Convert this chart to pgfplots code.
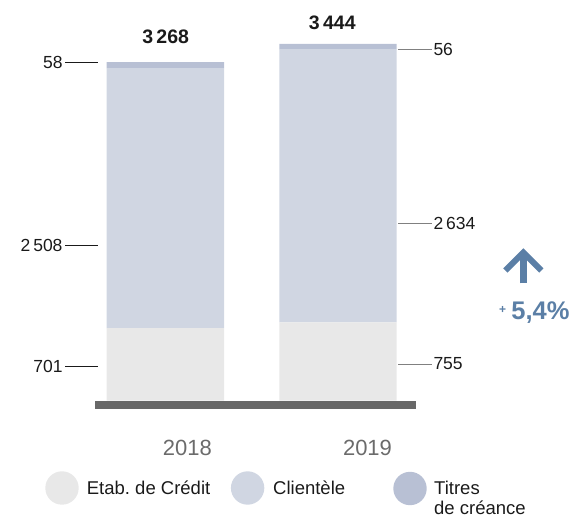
\documentclass[border=0pt]{standalone}
\usepackage{pgfplots}
\pgfplotsset{compat=1.18}
\usepackage{fontspec}
\setmainfont{Liberation Sans}
\frenchspacing
\definecolor{etab}{HTML}{E8E8E8}
\definecolor{clie}{HTML}{D0D6E2}
\definecolor{titr}{HTML}{B8C0D4}
\definecolor{basebar}{HTML}{686868}
\definecolor{blu}{HTML}{5B7FA6}
\definecolor{yr}{HTML}{6B6B6B}
\definecolor{txt}{HTML}{1A1A1A}
\newcommand\lab{\fontsize{17.5bp}{20bp}\selectfont}
\newcommand\tot{\bfseries\fontsize{19.5bp}{22bp}\selectfont}
\newcommand\leg{\fontsize{18.5bp}{20bp}\selectfont}
\begin{document}
\begin{tikzpicture}
\begin{scope}[x=1bp,y=1bp]
\useasboundingbox (0,0) rectangle (576,518);
\end{scope}
\begin{axis}[
  at={(94.5bp,117.3bp)}, anchor=south west,
  scale only axis, width=321.5bp, height=362.6bp,
  xmin=-0.41, xmax=1.4517, ymin=0, ymax=3500,
  hide axis, clip=false,
  ybar stacked, bar width=117.4bp,
]
\addplot[fill=etab, draw=none] coordinates {(0,701) (1,755)};
\addplot[fill=clie, draw=none] coordinates {(0,2508) (1,2634)};
\addplot[fill=titr, draw=none] coordinates {(0,58) (1,56)};
\end{axis}
\begin{scope}[x=1bp,y=1bp]
% baseline bar
\fill[basebar] (94.5,109) rectangle (416,117.3);
% totals
\node[font=\tot, txt, anchor=base, inner sep=0] at (165.7,474.7) {3\,268};
\node[font=\tot, txt, anchor=base, inner sep=0] at (332.3,488.7) {3\,444};
% left labels (2018)
\draw[line width=0.9bp, txt] (65,455.7) -- (98.3,455.7);
\node[font=\lab, txt, anchor=east, inner sep=0] at (62.7,455.7) {58};
\draw[line width=0.9bp, txt] (65,272.3) -- (98.3,272.3);
\node[font=\lab, txt, anchor=east, inner sep=0] at (62.7,272.3) {2\,508};
\draw[line width=0.9bp, txt] (65,152) -- (98.3,152);
\node[font=\lab, txt, anchor=east, inner sep=0] at (62.7,152) {701};
% right labels (2019)
\draw[line width=0.9bp, gray] (398.3,469) -- (431.7,469);
\node[font=\lab, txt, anchor=west, inner sep=0] at (433.3,469) {56};
\draw[line width=0.9bp, gray] (398.3,294.7) -- (431.7,294.7);
\node[font=\lab, txt, anchor=west, inner sep=0] at (433.3,294.7) {2\,634};
\draw[line width=0.9bp, gray] (398.3,154) -- (431.7,154);
\node[font=\lab, txt, anchor=west, inner sep=0] at (433.3,154) {755};
% years
\node[yr, font=\fontsize{22bp}{24bp}\selectfont, anchor=base, inner sep=0] at (187.3,62.3) {2018};
\node[yr, font=\fontsize{22bp}{24bp}\selectfont, anchor=base, inner sep=0] at (367.5,62.3) {2019};
% arrow
\draw[blu, line width=6.5bp] (523.3,234.7) -- (523.3,262);
\draw[blu, line width=6bp, miter limit=4] (505.3,247.5) -- (523.3,265.5) -- (541.3,247.5);
\node[blu, font=\bfseries\fontsize{25.5bp}{28bp}\selectfont, anchor=base west, inner sep=0] at (511.2,198) {5,4\%};
\node[blu, font=\bfseries\fontsize{12bp}{14bp}\selectfont, anchor=center, inner sep=0] at (502.7,207.7) {+};
% legend
\fill[etab] (62,30) circle (16.7);
\fill[clie] (247.6,30) circle (16.7);
\fill[titr] (410,29.5) circle (16.7);
\node[font=\leg, txt, anchor=base west, inner sep=0] at (86.7,23.7) {Etab. de Crédit};
\node[font=\leg, txt, anchor=base west, inner sep=0] at (273,23.7) {Clientèle};
\node[font=\leg, txt, anchor=base west, inner sep=0] at (434,23.7) {Titres};
\node[font=\leg, txt, anchor=base west, inner sep=0] at (434,3.7) {de créance};
\end{scope}
\end{tikzpicture}
\end{document}
